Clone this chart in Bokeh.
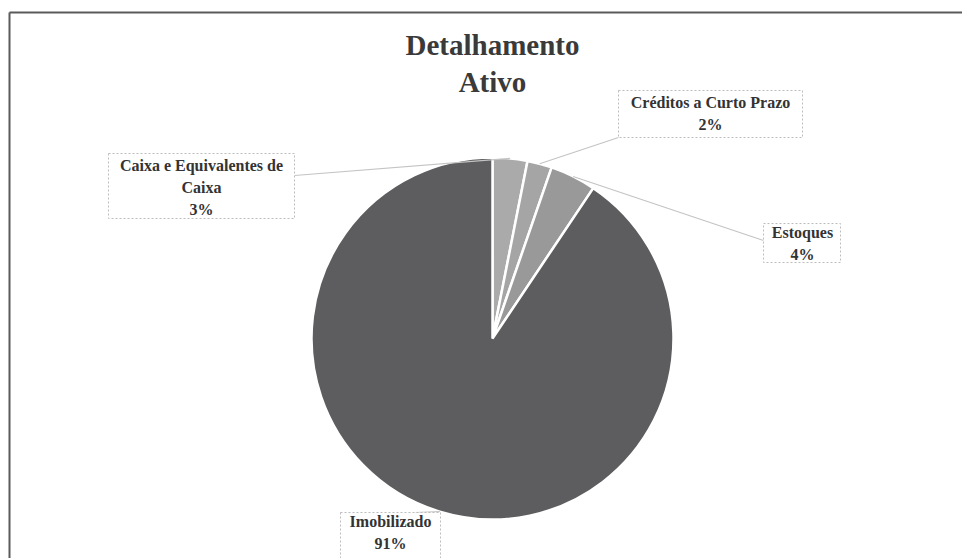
import numpy as np
from bokeh.plotting import figure
from bokeh.models import Range1d, ColumnDataSource
from bokeh.core.properties import value
from bokeh.embed import file_html
from bokeh.resources import INLINE

# ---------------- data ----------------
categories = ["Caixa e Equivalentes de Caixa", "Créditos a Curto Prazo", "Estoques", "Imobilizado"]
label_names = ["Caixa e Equivalentes de\nCaixa", "Créditos a Curto Prazo", "Estoques", "Imobilizado"]
shares = [3.1, 2.2, 4.1, 90.6]          # percent of total assets
colors = ["#aaaaaa", "#a5a5a5", "#999999", "#5d5c5e"]
title_lines = "Detalhamento\nAtivo"

# ---------------- layout (pixels of the page) ----------------
W, H = 962, 558
def sx(X):
    return X
def sy(Y):
    return H - Y

center = (492, 338)
radius = 181
# label block centers, boxes (l, t, r, b) and connector anchors, in page pixels
label_center = [(201, 187), (710, 113), (802, 243), (390, 532)]
label_box = [(108, 153, 294, 218), (618, 90, 802, 137), (763, 223, 840, 262), (340, 512, 440, 575)]
label_anchor = [(294, 175), (618, 137), (763, 240), (415, 512)]

p = figure(width=W, height=H, output_backend="svg", toolbar_location=None,
           x_range=Range1d(0, W), y_range=Range1d(0, H), min_border=0,
           x_axis_location=None, y_axis_location=None)
p.grid.visible = False
p.outline_line_color = None
p.background_fill_color = "white"
p.border_fill_color = "white"

# frame of the scanned chart (top and left edges)
p.segment(x0=[sx(9), sx(9)], y0=[sy(12), sy(12)], x1=[sx(962), sx(9)], y1=[sy(12), sy(560)],
          line_color="#5a5a5a", line_width=2)

# pie
vals = np.array(shares, dtype=float)
frac = vals / vals.sum()
cum_end = np.cumsum(frac)
cum_start = cum_end - frac
start_ang = np.pi / 2 - 2 * np.pi * cum_start
end_ang = np.pi / 2 - 2 * np.pi * cum_end
cx, cy = sx(center[0]), sy(center[1])
src = ColumnDataSource(dict(start=start_ang, end=end_ang, color=colors, cat=categories))
p.wedge(x=cx, y=cy, radius=radius, start_angle="start", end_angle="end", direction="clock",
        fill_color="color", line_color="white", line_width=2.5, source=src)

# leader lines from slice edge (mid angle) to label boxes
mid = 2 * np.pi * (cum_start + frac / 2)
ex = cx + radius * np.sin(mid)
ey = cy + radius * np.cos(mid)
ax = [sx(a[0]) for a in label_anchor]
ay = [sy(a[1]) for a in label_anchor]
p.segment(x0=list(ex), y0=list(ey), x1=ax, y1=ay, line_color="#c4c4c4", line_width=1.2)

# label boxes
p.quad(left=[sx(b[0]) for b in label_box], right=[sx(b[2]) for b in label_box],
       top=[sy(b[1]) for b in label_box], bottom=[sy(b[3]) for b in label_box],
       fill_color="white", line_color="#bdbdbd", line_dash="2 2", line_width=1)

# label texts
texts = [f"{n}\n{round(v)}%" for n, v in zip(label_names, shares)]
p.text(x=[sx(c[0]) for c in label_center], y=[sy(c[1]) for c in label_center], text=texts,
       text_font=value("Liberation Serif"), text_font_style="bold", text_font_size="16px",
       text_color="#333333", text_align="center", text_baseline="middle", text_line_height=1.3)

# title
p.text(x=[sx(492)], y=[sy(63)], text=[title_lines],
       text_font=value("Liberation Serif"), text_font_style="bold", text_font_size="29px",
       text_color="#3a3a3a", text_align="center", text_baseline="middle", text_line_height=1.15)

open("out.html", "w").write(file_html(p, INLINE))
